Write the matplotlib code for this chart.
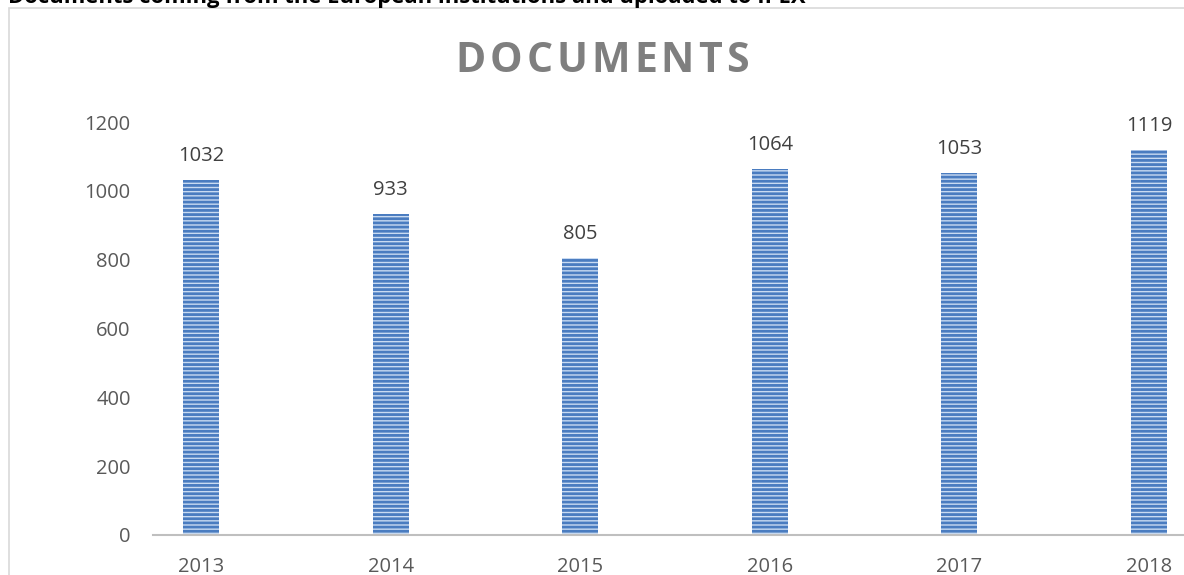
import matplotlib
matplotlib.use("Agg")
import matplotlib.pyplot as plt
from matplotlib.patches import Rectangle

years = ["2013", "2014", "2015", "2016", "2017", "2018"]
documents = [1032, 933, 805, 1064, 1053, 1119]
y_ticks = [0, 200, 400, 600, 800, 1000, 1200]

header = "Documents coming from the European institutions and uploaded to IPEX"
title = "DOCUMENTS"

plt.rcParams['font.family'] = ['Open Sans', 'DejaVu Sans']
plt.rcParams['hatch.linewidth'] = 2.0

W, H = 1184, 575
fig = plt.figure(figsize=(W / 100, H / 100), dpi=100)

# chart frame (cropped on the right and bottom)
fig.patches.append(Rectangle((9 / W, -0.1), 1.2, 1.1 - 8 / H, transform=fig.transFigure,
                             fill=False, edgecolor='#d9d9d9', linewidth=1.2))

# header text, mostly cut off at the top as in the source
fig.text(8 / W, 1 - 3 / H, header, fontsize=15.8, fontweight='bold', color='black',
         ha='left', va='baseline')

ax = fig.add_axes([153 / W, 40 / H, 1 - 153 / W, (535 - 122) / H])
x = list(range(len(years)))
ax.bar(x, documents, width=0.19, color='#c9dbf2', edgecolor='#4a7cc0', linewidth=0,
       hatch='----')
for xi, v in zip(x, documents):
    ax.annotate(str(v), (xi, v), xytext=(0, 10), textcoords='offset points',
                ha='center', va='bottom', fontsize=14.5, color='#404040')

ax.set_xlim(-48 / 189.6, (1184 - 201) / 189.6)
ax.set_ylim(0, 1200)
ax.set_xticks(x)
ax.set_xticklabels(years)
ax.set_yticks(y_ticks)
ax.tick_params(axis='both', length=0, labelsize=14.5, labelcolor='#595959')
ax.tick_params(axis='y', pad=16)
ax.tick_params(axis='x', pad=16)
for s in ['top', 'right', 'left']:
    ax.spines[s].set_visible(False)
ax.spines['bottom'].set_color('#bfbfbf')
ax.spines['bottom'].set_linewidth(1.5)
ax.patch.set_alpha(0)

# letter-spaced title
renderer = fig.canvas.get_renderer()
spacing = 4
widths = []
for ch in title:
    t = fig.text(0, 0, ch, fontsize=29.5, fontweight='bold')
    widths.append(t.get_window_extent(renderer).width)
    t.remove()
total = sum(widths) + spacing * (len(title) - 1)
xpos = 602 - total / 2
for ch, w in zip(title, widths):
    fig.text(xpos / W, 1 - 61 / H, ch, fontsize=29.5, fontweight='bold', color='#7f7f7f',
             ha='left', va='center')
    xpos += w + spacing

fig.savefig("out.png", dpi=100)
